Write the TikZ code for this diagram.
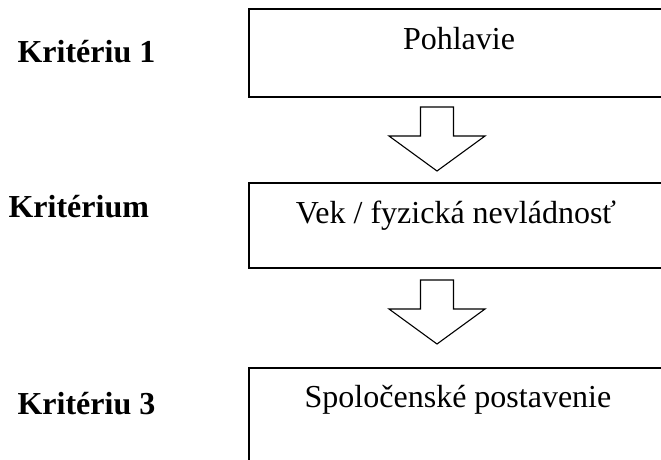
\documentclass[tikz,border=0pt]{standalone}
\usepackage{fontspec}
\setmainfont{Liberation Serif}
\usepackage{tikz}
\usetikzlibrary{calc}
\usetikzlibrary{positioning}

\tikzset{
  critbox/.style={draw=black, line width=1.6pt, anchor=north west, inner sep=0pt, minimum width=440pt},
  crittext/.style={anchor=base, font=\fontsize{32}{38}\selectfont},
  critlabel/.style={anchor=base west, font=\fontsize{32}{38}\selectfont\bfseries},
  downarrow/.pic={
    \draw[line width=1.1pt, line join=miter] (0,0) -- (-48,-35) -- (-16.5,-35) -- (-16.5,-64)
      -- (16.5,-64) -- (16.5,-35) -- (48,-35) -- cycle;
  }
}

\begin{document}
\begin{tikzpicture}[x=1pt, y=-1pt]
    \useasboundingbox (0,0) rectangle (661,460);
    \clip (0,0) rectangle (661,460);
    % boxes
    \node[critbox, minimum height=88pt] (B1) at (248,8) {};
    \node[critbox, minimum height=85pt] (B2) at (248,182) {};
    \node[critbox, minimum height=120pt] (B3) at (248,367) {};
    \node[crittext] (T1) at (459,50) {Pohlavie};
    \node[crittext] (T2) at (456,223) {Vek / fyzická nevládnosť};
    \node[crittext] (T3) at (458,407) {Spoločenské postavenie};
    % labels
    \node[critlabel] (L1) at (14,63) {Kritériu 1};
    \node[critlabel] (L2) at (5,217) {Kritérium};
    \node[critlabel] (L3) at (14,414) {Kritériu 3};
    % arrows
    \pic (A1) at (437,171) {downarrow};
    \pic (A2) at (437,344) {downarrow};
  \end{tikzpicture}
\end{document}
